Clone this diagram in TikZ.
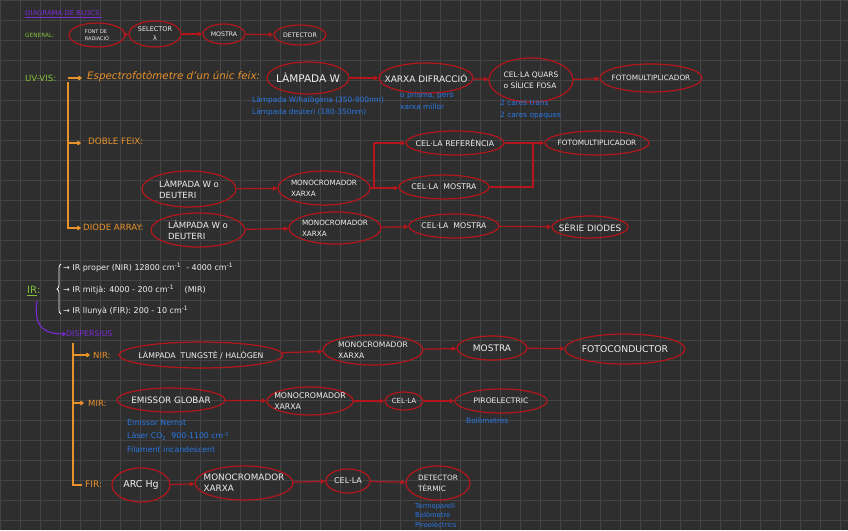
\documentclass[tikz,border=0pt]{standalone}
\usepackage{fontspec}
\usepackage{graphicx}
\setmainfont{DejaVu Sans}
\usetikzlibrary{shapes.geometric,arrows.meta,decorations.pathreplacing}
\definecolor{bg}{HTML}{2E2E2E}
\definecolor{gridc}{HTML}{444444}
\definecolor{rd}{HTML}{B3161B}
\definecolor{org}{HTML}{E8922C}
\definecolor{grn}{HTML}{86C03A}
\definecolor{blu}{HTML}{2A78E4}
\definecolor{pur}{HTML}{7A2BD4}
\definecolor{wht}{HTML}{F0F0F0}
\newcommand\fs[1]{\fontsize{#1}{#1}\selectfont}
\begin{document}
\begin{tikzpicture}[x=1pt,y=-1pt,
 box/.style 2 args={ellipse, draw=rd, line width=1.2pt, inner sep=0pt, minimum width=#1, minimum height=#2},
 t/.style={text=wht, align=left, inner sep=0pt},
 arr/.style={draw=rd, line width=1.2pt, -{Triangle[length=4.5pt,width=4.5pt]}},
 lin/.style={draw=rd, line width=1.2pt},
 olin/.style={draw=org, line width=1.2pt},
 oarr/.style={draw=org, line width=1.2pt, -{Straight Barb[length=2.5pt,width=4pt]}},
 lbl/.style={inner sep=0pt, anchor=west},
 note/.style={inner sep=0pt, anchor=west, text=blu, align=left, font=\fs{7.4}},
]
\useasboundingbox (0,0) rectangle (848,530);
\fill[bg] (0,0) rectangle (848,530);
\foreach \g in {0,20,...,840} \draw[gridc,line width=0.7pt] (\g,0) -- (\g,530);
\foreach \g in {0,20,...,520} \draw[gridc,line width=0.7pt] (0,\g) -- (848,\g);

% title
\node[lbl,text=pur,font=\fs{6.9}] (title) at (25,14) {\underline{DIAGRAMA DE BLOCS:}};

% general
\node[lbl,text=grn,font=\fs{5.8}] (gen) at (25,35) {GENERAL:};
\node[box={56}{24}, label={[t,font=\fontsize{5}{7}\selectfont]center:{FONT DE\\RADIACIÓ}}] (g1) at (97,35) {};
\node[box={52}{26}, label={[t,align=center,font=\fontsize{6.5}{9}\selectfont]center:{SELECTOR\\λ}}] (g2) at (155,34) {};
\node[box={42}{20}, label={[t,font=\fs{6.2}]center:MOSTRA}] (g3) at (224,34) {};
\node[box={52}{20}, label={[t,font=\fs{6.2}]center:DETECTOR}] (g4) at (300,35) {};
\draw[arr] (g1) -- (g2);
\draw[arr] (g2) -- (g3);
\draw[arr] (g3) -- (g4);

% UV-VIS
\node[lbl,text=grn,font=\fs{8.6}] (uv) at (25,78) {UV-VIS:};
\coordinate (uvA) at (68,78);
\coordinate (uvB) at (82,78);
\draw[oarr] (uvA) -- (uvB);
\node[lbl,text=org,font=\itshape\fs{10.3}] (esp) at (87,76) {Espectrofotòmetre d'un únic feix:};
\node[box={82}{32}, label={[t,font=\fs{10.5}]center:LÀMPADA W}] (u1) at (308,78) {};
\node[note] (n1a) at (252,100) {Làmpada W/halògena (350-900nm)};
\node[note] (n1b) at (252,112) {Làmpada deuteri (180-350nm)};
\node[box={94}{30}, label={[t,font=\fs{9}]center:XARXA DIFRACCIÓ}] (u2) at (426,78) {};
\node[note,font=\fontsize{7.4}{12}\selectfont] (n2) at (400,101) {o prisma, però\\xarxa millor};
\node[box={84}{44}, label={[t,font=\fontsize{7.5}{11}\selectfont]center:{CEL·LA QUARS\\o SÍLICE FOSA}}] (u3) at (531,80) {};
\node[note,font=\fontsize{7.4}{12}\selectfont] (n3) at (500,110) {2 cares trans\\2 cares opaques};
\node[box={102}{28}, label={[t,font=\fs{7.3}]center:FOTOMULTIPLICADOR}] (u4) at (651,78) {};
\draw[arr] (u1) -- (u2);
\draw[arr] (u2) -- (u3);
\draw[arr] (u3) -- (u4);

% UV-VIS branches
\coordinate (uvTop) at (68,82);
\coordinate (uvD) at (68,143);
\coordinate (uvD2) at (81,143);
\coordinate (uvE) at (68,228);
\coordinate (uvE2) at (81,228);
\draw[oarr] (uvTop) -- (uvE) -- (uvE2);
\draw[oarr] (uvD) -- (uvD2);

% doble feix
\node[lbl,text=org,font=\fs{8.8}] (df) at (88,141) {DOBLE FEIX:};
\node[box={94}{36}, label={[t,font=\fontsize{8.5}{11}\selectfont]center:{LÀMPADA W o\\DEUTERI}}] (d1) at (189,189) {};
\node[box={92}{34}, label={[t,font=\fontsize{7.2}{11}\selectfont]center:{MONOCROMADOR\\XARXA}}] (d2) at (324,188) {};
\draw[arr] (d1) -- (d2);
\coordinate (spB) at (374,188);
\coordinate (spT) at (374,143);
\node[box={98}{24}, label={[t,font=\fs{7.8}]center:CEL·LA REFERÈNCIA}] (d3) at (455,143) {};
\node[box={90}{24}, label={[t,font=\fs{7.8}]center:CEL·LA \ MOSTRA}] (d4) at (444,187) {};
\draw[lin] (d2.east) -- (spB) -- (spT);
\draw[arr] (spT) -- (spT -| d3.west);
\draw[arr] (spB) -- (spB -| d4.west);
\coordinate (jB) at (533,187);
\coordinate (jT) at (533,143);
\node[box={104}{24}, label={[t,font=\fs{7.3}]center:FOTOMULTIPLICADOR}] (d5) at (597,143) {};
\draw[lin] (d3.east) -- (jT);
\draw[lin] (d4.east) -- (jB) -- (jT);
\draw[arr] (jT) -- (d5.west);

% diode array
\node[lbl,text=org,font=\fs{8.6}] (da) at (83,227) {DIODE ARRAY:};
\node[box={94}{34}, label={[t,font=\fontsize{8.5}{11}\selectfont]center:{LÀMPADA W o\\DEUTERI}}] (a1) at (198,230) {};
\node[box={92}{32}, label={[t,font=\fontsize{7.2}{11}\selectfont]center:{MONOCROMADOR\\XARXA}}] (a2) at (335,228) {};
\node[box={90}{24}, label={[t,font=\fs{7.8}]center:CEL·LA \ MOSTRA}] (a3) at (454,226) {};
\node[box={76}{22}, label={[t,font=\fs{8.8}]center:SÈRIE DIODES}] (a4) at (590,227) {};
\draw[arr] (a1) -- (a2);
\draw[arr] (a2) -- (a3);
\draw[arr] (a3) -- (a4);

% IR
\node[lbl,text=grn,font=\fs{10}] (ir) at (27,291) {\underline{IR}:};
\draw[wht, line width=0.8pt, decorate, decoration={brace,amplitude=4pt}] (61,314) -- (61,264);
\node[lbl,text=wht,font=\fs{8}] (ir1) at (63,268) {→ IR proper (NIR) 12800 cm\textsuperscript{-1} \ - 4000 cm\textsuperscript{-1}};
\node[lbl,text=wht,font=\fs{8}] (ir2) at (63,290) {→ IR mitjà: 4000 - 200 cm\textsuperscript{-1} \quad (MIR)};
\node[lbl,text=wht,font=\fs{8}] (ir3) at (63,311) {→ IR llunyà (FIR): 200 - 10 cm\textsuperscript{-1}};
\node[lbl,text=pur,font=\fs{7.8}] (disp) at (66,334) {DISPERSIUS};
\coordinate (irc) at (37,301);
\draw[pur, line width=1.1pt, -{Straight Barb[length=2.5pt,width=4pt]}] (irc) .. controls (33,328) and (45,334) .. (disp.west);

% dispersius branches
\coordinate (dTop) at (73,343);
\coordinate (dN) at (73,355);
\coordinate (dN2) at (90,355);
\coordinate (dM) at (73,403);
\coordinate (dM2) at (84,403);
\coordinate (dF) at (73,485);
\coordinate (dF2) at (82,485);
\draw[olin] (dTop) -- (dF) -- (dF2);
\draw[oarr] (dN) -- (dN2);
\draw[oarr] (dM) -- (dM2);

% NIR
\node[lbl,text=org,font=\fs{8.5}] (nir) at (93,355) {NIR:};
\node[box={164}{26}, label={[t,font=\fs{7.8}]center:LÀMPADA \ TUNGSTÈ / HALÒGEN}] (r1) at (201,355) {};
\node[box={100}{30}, label={[t,font=\fontsize{7.6}{11}\selectfont]center:{MONOCROMADOR\\XARXA}}] (r2) at (373,350) {};
\node[box={70}{24}, label={[t,font=\fs{9}]center:MOSTRA}] (r3) at (492,348) {};
\node[box={120}{30}, label={[t,font=\fs{9.3}]center:FOTOCONDUCTOR}] (r4) at (625,349) {};
\draw[arr] (r1) -- (r2);
\draw[arr] (r2) -- (r3);
\draw[arr] (r3) -- (r4);

% MIR
\node[lbl,text=org,font=\fs{8.5}] (mir) at (88,403) {MIR:};
\node[box={108}{24}, label={[t,font=\fs{8.8}]center:EMISSOR GLOBAR}] (m1) at (171,400) {};
\node[box={86}{28}, label={[t,font=\fontsize{7.8}{11}\selectfont]center:{MONOCROMADOR\\XARXA}}] (m2) at (310,401) {};
\node[box={38}{18}, label={[t,font=\fs{7}]center:CEL·LA}] (m3) at (404,401) {};
\node[box={92}{24}, label={[t,font=\fs{7.6}]center:PIROELECTRIC}] (m4) at (501,401) {};
\draw[arr] (m1) -- (m2);
\draw[arr] (m2) -- (m3);
\draw[arr] (m3) -- (m4);
\node[note,font=\fontsize{7.8}{13.5}\selectfont] (mn) at (127,436) {Emissor Nernst\\Làser CO\textsubscript{2} \ 900-1100 cm\textsuperscript{-1}\\Filament incandescent};
\node[note,font=\fs{7.4}] (mb) at (466,421) {Bolòmetres};

% FIR
\node[lbl,text=org,font=\fs{9}] (fir) at (85,484) {FIR:};
\node[box={58}{34}, label={[t,font=\fs{9.5}]center:ARC Hg}] (f1) at (141,485) {};
\node[box={98}{34}, label={[t,font=\fontsize{8.8}{11}\selectfont]center:{MONOCROMADOR\\XARXA}}] (f2) at (244,483) {};
\node[box={44}{24}, label={[t,font=\fs{8}]center:CEL·LA}] (f3) at (348,481) {};
\node[box={64}{34}, label={[t,font=\fontsize{7.3}{11}\selectfont]center:{DETECTOR\\TÈRMIC}}] (f4) at (438,483) {};
\draw[arr] (f1) -- (f2);
\draw[arr] (f2) -- (f3);
\draw[arr] (f3) -- (f4);
\node[note,font=\fontsize{6.8}{9.5}\selectfont] (fn) at (415,515) {Termoparell\\Bolòmetre\\Piroelèctrics};
\end{tikzpicture}
\end{document}
